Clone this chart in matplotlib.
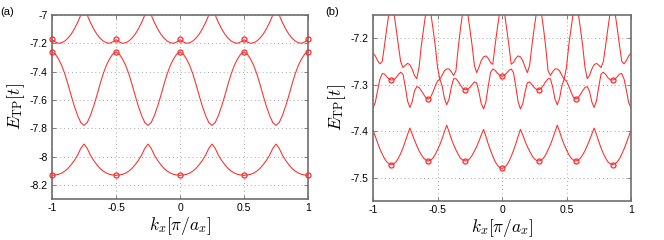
import numpy as np
import matplotlib
matplotlib.use('Agg')
import matplotlib.pyplot as plt

plt.rcParams['font.family'] = ['Liberation Sans', 'DejaVu Sans']
plt.rcParams['mathtext.fontset'] = 'cm'
plt.rcParams['axes.unicode_minus'] = False

# ---- panel (a): k grid step 0.025 ----
k_a = np.linspace(-1, 1, 81)

band_a_top = [
    -7.175, -7.19, -7.2, -7.196, -7.184, -7.163, -7.135, -7.098, -7.053, -7.0,
    -6.94, -7.0, -7.053, -7.098, -7.135, -7.163, -7.184, -7.196, -7.2, -7.19,
    -7.175, -7.19, -7.2, -7.196, -7.184, -7.163, -7.135, -7.098, -7.053, -7.0,
    -6.94, -7.0, -7.053, -7.098, -7.135, -7.163, -7.184, -7.196, -7.2, -7.19,
    -7.175, -7.19, -7.2, -7.196, -7.184, -7.163, -7.135, -7.098, -7.053, -7.0,
    -6.94, -7.0, -7.053, -7.098, -7.135, -7.163, -7.184, -7.196, -7.2, -7.19,
    -7.175, -7.19, -7.2, -7.196, -7.184, -7.163, -7.135, -7.098, -7.053, -7.0,
    -6.94, -7.0, -7.053, -7.098, -7.135, -7.163, -7.184, -7.196, -7.2, -7.19,
    -7.175]

band_a_mid = [
    -7.262, -7.275, -7.31, -7.355, -7.415, -7.49, -7.57, -7.645, -7.71, -7.76,
    -7.78, -7.76, -7.71, -7.645, -7.57, -7.49, -7.415, -7.355, -7.31, -7.275,
    -7.262, -7.275, -7.31, -7.355, -7.415, -7.49, -7.57, -7.645, -7.71, -7.76,
    -7.78, -7.76, -7.71, -7.645, -7.57, -7.49, -7.415, -7.355, -7.31, -7.275,
    -7.262, -7.275, -7.31, -7.355, -7.415, -7.49, -7.57, -7.645, -7.71, -7.76,
    -7.78, -7.76, -7.71, -7.645, -7.57, -7.49, -7.415, -7.355, -7.31, -7.275,
    -7.262, -7.275, -7.31, -7.355, -7.415, -7.49, -7.57, -7.645, -7.71, -7.76,
    -7.78, -7.76, -7.71, -7.645, -7.57, -7.49, -7.415, -7.355, -7.31, -7.275,
    -7.262]

band_a_low = [
    -8.133, -8.13, -8.126, -8.117, -8.103, -8.084, -8.057, -8.027, -7.99, -7.942,
    -7.912, -7.942, -7.99, -8.027, -8.057, -8.084, -8.103, -8.117, -8.126, -8.13,
    -8.133, -8.13, -8.126, -8.117, -8.103, -8.084, -8.057, -8.027, -7.99, -7.942,
    -7.912, -7.942, -7.99, -8.027, -8.057, -8.084, -8.103, -8.117, -8.126, -8.13,
    -8.133, -8.13, -8.126, -8.117, -8.103, -8.084, -8.057, -8.027, -7.99, -7.942,
    -7.912, -7.942, -7.99, -8.027, -8.057, -8.084, -8.103, -8.117, -8.126, -8.13,
    -8.133, -8.13, -8.126, -8.117, -8.103, -8.084, -8.057, -8.027, -7.99, -7.942,
    -7.912, -7.942, -7.99, -8.027, -8.057, -8.084, -8.103, -8.117, -8.126, -8.13,
    -8.133]

mark_a_k = [-1, -0.5, 0, 0.5, 1]
mark_a_top = [-7.17, -7.17, -7.17, -7.17, -7.17]
mark_a_mid = [-7.262, -7.262, -7.262, -7.262, -7.262]
mark_a_low = [-8.133, -8.133, -8.133, -8.133, -8.133]

# ---- panel (b): k grid step 1/56 ----
k_b = np.linspace(-1, 1, 113)

band_b_top = [
    -7.232, -7.238, -7.248, -7.255, -7.250, -7.215, -7.178, -7.143,
    -7.120, -7.143, -7.178, -7.215, -7.250, -7.263, -7.258, -7.254,
    -7.257, -7.266, -7.280, -7.287, -7.262, -7.215, -7.178, -7.143,
    -7.120, -7.143, -7.178, -7.215, -7.262, -7.288, -7.280, -7.270,
    -7.266, -7.266, -7.272, -7.280, -7.270, -7.220, -7.178, -7.143,
    -7.120, -7.143, -7.178, -7.215, -7.258, -7.274, -7.262, -7.248,
    -7.240, -7.238, -7.243, -7.252, -7.256, -7.215, -7.178, -7.143,
    -7.120,
    -7.143, -7.178, -7.215, -7.256, -7.252, -7.243, -7.238,
    -7.240, -7.248, -7.262, -7.274, -7.258, -7.215, -7.178, -7.143,
    -7.120, -7.143, -7.178, -7.220, -7.270, -7.280, -7.272, -7.266,
    -7.266, -7.270, -7.280, -7.288, -7.262, -7.215, -7.178, -7.143,
    -7.120, -7.143, -7.178, -7.215, -7.262, -7.287, -7.280, -7.266,
    -7.257, -7.254, -7.258, -7.263, -7.250, -7.215, -7.178, -7.143,
    -7.120, -7.143, -7.178, -7.215, -7.250, -7.255, -7.248, -7.238,
    -7.232]

band_b_mid = [
    -7.350, -7.338, -7.312, -7.288, -7.276, -7.277, -7.283, -7.288,
    -7.290, -7.289, -7.285, -7.278, -7.273, -7.277, -7.304, -7.335,
    -7.349, -7.337, -7.314, -7.304, -7.306, -7.313, -7.321, -7.328,
    -7.331, -7.327, -7.316, -7.303, -7.292, -7.288, -7.302, -7.329,
    -7.343, -7.331, -7.305, -7.287, -7.287, -7.293, -7.301, -7.308,
    -7.311, -7.310, -7.306, -7.300, -7.294, -7.296, -7.316, -7.341,
    -7.352, -7.337, -7.304, -7.274, -7.266, -7.269, -7.275, -7.280,
    -7.282,
    -7.280, -7.275, -7.269, -7.266, -7.274, -7.304, -7.337,
    -7.352, -7.341, -7.316, -7.296, -7.294, -7.300, -7.306, -7.310,
    -7.311, -7.308, -7.301, -7.293, -7.287, -7.287, -7.305, -7.331,
    -7.343, -7.329, -7.302, -7.288, -7.292, -7.303, -7.316, -7.327,
    -7.331, -7.328, -7.321, -7.313, -7.306, -7.304, -7.314, -7.337,
    -7.349, -7.335, -7.304, -7.277, -7.273, -7.278, -7.285, -7.289,
    -7.290, -7.288, -7.283, -7.277, -7.276, -7.288, -7.312, -7.338,
    -7.350]

band_b_low = [
    -7.398, -7.411, -7.425, -7.438, -7.449, -7.459, -7.466, -7.470,
    -7.472, -7.470, -7.466, -7.458, -7.448, -7.436, -7.422, -7.407,
    -7.393, -7.406, -7.419, -7.431, -7.442, -7.451, -7.458, -7.462,
    -7.464, -7.462, -7.458, -7.450, -7.440, -7.429, -7.416, -7.401,
    -7.387, -7.401, -7.416, -7.429, -7.440, -7.450, -7.458, -7.462,
    -7.464, -7.463, -7.459, -7.452, -7.443, -7.433, -7.421, -7.408,
    -7.396, -7.411, -7.427, -7.441, -7.454, -7.465, -7.473, -7.478,
    -7.480,
    -7.478, -7.473, -7.465, -7.454, -7.441, -7.427, -7.411,
    -7.396, -7.408, -7.421, -7.433, -7.443, -7.452, -7.459, -7.463,
    -7.464, -7.462, -7.458, -7.450, -7.440, -7.429, -7.416, -7.401,
    -7.387, -7.401, -7.416, -7.429, -7.440, -7.450, -7.458, -7.462,
    -7.464, -7.462, -7.458, -7.451, -7.442, -7.431, -7.419, -7.406,
    -7.393, -7.407, -7.422, -7.436, -7.448, -7.458, -7.466, -7.470,
    -7.472, -7.470, -7.466, -7.459, -7.449, -7.438, -7.425, -7.411,
    -7.398]

mark_b_k = [-0.857, -0.571, -0.286, 0, 0.286, 0.571, 0.857]
mark_b_mid = [-7.290, -7.331, -7.311, -7.282, -7.311, -7.331, -7.290]
mark_b_low = [-7.472, -7.464, -7.464, -7.480, -7.464, -7.464, -7.472]

xticks = [-1, -0.5, 0, 0.5, 1]
xtick_labels = ['-1', '-0.5', '0', '0.5', '1']
yticks_a = [-8.2, -8, -7.8, -7.6, -7.4, -7.2, -7]
ytick_labels_a = ['-8.2', '-8', '-7.8', '-7.6', '-7.4', '-7.2', '-7']
yticks_b = [-7.5, -7.4, -7.3, -7.2]
ytick_labels_b = ['-7.5', '-7.4', '-7.3', '-7.2']

red = '#ff2a2a'
frame = '#6e6e6e'

fig = plt.figure(figsize=(6.64, 2.4), dpi=100)
ax1 = fig.add_axes([52/664, 41/240, 256/664, 184/240])
ax2 = fig.add_axes([373/664, 39/240, 258/664, 186/240])

for y in [band_a_top, band_a_mid, band_a_low]:
    ax1.plot(k_a, y, color=red, lw=0.75)
for y in [mark_a_top, mark_a_mid, mark_a_low]:
    ax1.plot(mark_a_k, y, 'o', ms=3.6, mfc='none', mec=red, mew=0.9, clip_on=False, zorder=5)

for y in [band_b_top, band_b_mid, band_b_low]:
    ax2.plot(k_b, y, color=red, lw=0.75)
for y in [mark_b_mid, mark_b_low]:
    ax2.plot(mark_b_k, y, 'o', ms=3.6, mfc='none', mec=red, mew=0.9, clip_on=False, zorder=5)

ax1.set_xlim(-1, 1)
ax1.set_ylim(-8.3, -7)
ax1.set_yticks(yticks_a)
ax1.set_yticklabels(ytick_labels_a)
ax2.set_xlim(-1, 1)
ax2.set_ylim(-7.55, -7.15)
ax2.set_yticks(yticks_b)
ax2.set_yticklabels(ytick_labels_b)

for ax in [ax1, ax2]:
    ax.set_xticks(xticks)
    ax.set_xticklabels(xtick_labels)
    ax.grid(True, color='#a8a8a8', linestyle=(0, (1, 3)), lw=0.7)
    ax.tick_params(direction='in', top=True, right=True, length=3, width=0.6,
                   color=frame, labelsize=7.5, pad=3)
    for s in ax.spines.values():
        s.set_color(frame)
        s.set_linewidth(1.2)
    ax.set_xlabel(r'$k_x[\pi/a_x]$', fontsize=12.5, labelpad=1)
    ax.set_ylabel(r'$E_{\rm TP}[t]$', fontsize=12.5, labelpad=2)

fig.text(0.0, 1 - 12/240, '(a)', fontsize=8, va='center', ha='left')
fig.text(325/664, 1 - 12/240, '(b)', fontsize=8, va='center', ha='left')

fig.savefig('out.png', dpi=100)
